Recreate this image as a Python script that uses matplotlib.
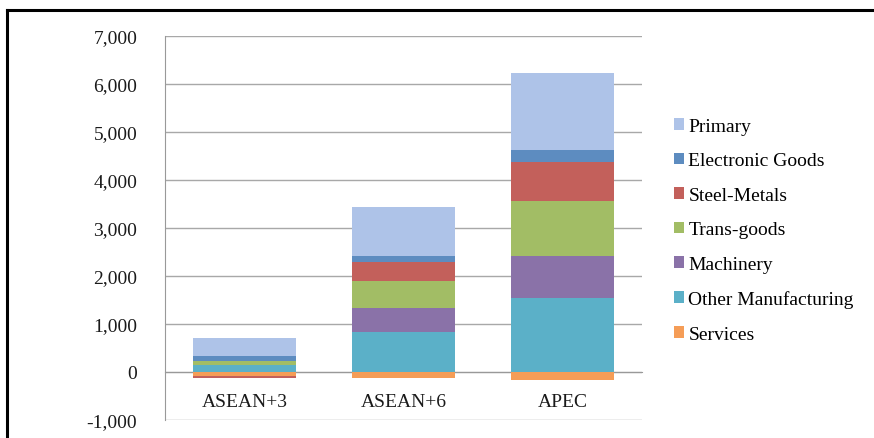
import numpy as np
import matplotlib
matplotlib.use('Agg')
import matplotlib.pyplot as plt
from matplotlib.ticker import StrMethodFormatter
from matplotlib.lines import Line2D
from matplotlib.patches import Patch

plt.rcParams['font.family'] = ['Liberation Serif', 'DejaVu Serif']
plt.rcParams['axes.unicode_minus'] = False

# values
groups = ['ASEAN+3', 'ASEAN+6', 'APEC']
sectors = ['Services', 'Other Manufacturing', 'Machinery', 'Trans-goods',
           'Steel-Metals', 'Electronic Goods', 'Primary']
services = [-77, -133, -175]
other_manuf = [140, 827, 1542]
machinery = [6, 513, 868]
trans_goods = [83, 556, 1146]
steel_metals = [-56, 389, 819]
electronic = [104, 125, 256]
primary = [369, 1021, 1592]
y_ticks = [-1000, 0, 1000, 2000, 3000, 4000, 5000, 6000, 7000]

colors = ['#F59D57', '#5BB0C8', '#8A72A8', '#A2BD65',
          '#C3605B', '#5D8CC0', '#AEC3E8']
series = [services, other_manuf, machinery, trans_goods,
          steel_metals, electronic, primary]

fig = plt.figure(figsize=(8.74, 4.39), dpi=100)
ax = fig.add_axes([165/874, 18/439, 477/874, 384/439])

x = np.arange(len(groups))
pos_base = np.zeros(len(groups))
neg_base = np.zeros(len(groups))
for name, vals, col in zip(sectors, series, colors):
    v = np.array(vals, dtype=float)
    base = np.where(v >= 0, pos_base, neg_base)
    ax.bar(x, v, width=0.645, bottom=base, color=col, label=name, zorder=3)
    pos_base += np.where(v >= 0, v, 0)
    neg_base += np.where(v < 0, v, 0)

ax.set_xlim(-0.5, 2.5)
ax.set_ylim(-1000, 7000)
ax.set_yticks(y_ticks)
ax.yaxis.set_major_formatter(StrMethodFormatter('{x:,.0f}'))
ax.yaxis.grid(True, color='#a8a8a8', linewidth=1.0, zorder=0)
ax.set_axisbelow(True)

ax.set_xticks(x)
ax.set_xticklabels(groups)
ax.spines['bottom'].set_position(('data', 0))
ax.spines['bottom'].set_color('#999999')
ax.spines['left'].set_color('#999999')
ax.spines['top'].set_visible(False)
ax.spines['right'].set_visible(False)
ax.tick_params(axis='x', length=0, pad=15, labelsize=14, colors='#1a1a1a')
ax.tick_params(axis='y', length=0, pad=20, labelsize=14, colors='#1a1a1a')

handles = [Patch(facecolor=c, label=s) for s, c in zip(sectors, colors)][::-1]
fig.legend(handles=handles, loc='upper left', bbox_to_anchor=(666/874, 1 - 111/439),
           frameon=False, fontsize=14, handlelength=0.55, handleheight=0.55,
           handletextpad=0.2, labelspacing=0.9, borderaxespad=0)

# black frame of the original picture
fig.add_artist(Line2D([7/874, 7/874], [0, 1 - 10.5/439], transform=fig.transFigure,
                      color='black', linewidth=2.2))
fig.add_artist(Line2D([7/874, 1], [1 - 10.5/439, 1 - 10.5/439], transform=fig.transFigure,
                      color='black', linewidth=2.2))

fig.savefig('out.png', dpi=100)
